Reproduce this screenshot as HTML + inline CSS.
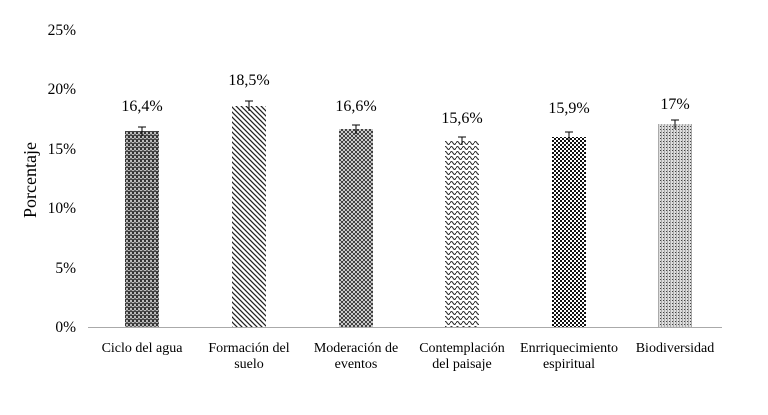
<!DOCTYPE html>
<html><head><meta charset="utf-8"><style>
body{margin:0;background:#fff}
svg{display:block;font-family:"Liberation Serif",serif}
</style></head><body>
<svg width="768" height="415" viewBox="0 0 768 415" xmlns="http://www.w3.org/2000/svg">
<defs>
<pattern id="p1" width="4" height="4" patternUnits="userSpaceOnUse"><rect width="4" height="4" fill="#bbb"/><rect width="2" height="2" fill="#333"/><rect x="2" y="2" width="2" height="2" fill="#666"/><rect y="3" width="4" height="1" fill="#444"/></pattern>
<pattern id="p2" width="5" height="5" patternUnits="userSpaceOnUse"><rect width="5" height="5" fill="#fff"/><path d="M0 0L5 5M-1 4L1 6M4 -1L6 1" stroke="#222" stroke-width="1.3"/></pattern>
<pattern id="p3" width="4" height="4" patternUnits="userSpaceOnUse"><rect width="4" height="4" fill="#fff"/><path d="M0 0L4 4M4 0L0 4" stroke="#333" stroke-width="1"/></pattern>
<pattern id="p4" width="6" height="5" patternUnits="userSpaceOnUse"><rect width="6" height="5" fill="#fff"/><path d="M0 3Q1.5 0 3 3T6 3" fill="none" stroke="#222" stroke-width="1"/></pattern>
<pattern id="p5" width="4" height="4" patternUnits="userSpaceOnUse"><rect width="4" height="4" fill="#fff"/><rect width="2" height="2" fill="#111"/><rect x="2" y="2" width="2" height="2" fill="#111"/></pattern>
<pattern id="p6" width="3" height="3" patternUnits="userSpaceOnUse"><rect width="3" height="3" fill="#ddd"/><rect width="1" height="1" fill="#444"/><rect x="1" width="1" height="3" fill="#aaa"/></pattern>
</defs>
<g font-size="15.5" fill="#000" text-anchor="end">
<text x="76" y="35">25%</text><text x="76" y="94">20%</text><text x="76" y="154">15%</text>
<text x="76" y="213">10%</text><text x="76" y="273">5%</text><text x="76" y="332">0%</text>
</g>
<text transform="translate(36,180) rotate(-90)" font-size="18" text-anchor="middle">Porcentaje</text>
<line x1="88" y1="327.5" x2="722" y2="327.5" stroke="#aaa" stroke-width="1"/>
<g>
<rect x="125" y="131" width="34" height="196" fill="url(#p1)"/>
<rect x="232" y="106" width="34" height="221" fill="url(#p2)"/>
<rect x="339" y="129" width="34" height="198" fill="url(#p3)"/>
<rect x="445" y="141" width="34" height="186" fill="url(#p4)"/>
<rect x="552" y="137" width="34" height="190" fill="url(#p5)"/>
<rect x="658" y="124" width="34" height="203" fill="url(#p6)"/>
</g>
<g stroke="#000" stroke-width="1">
<path d="M142 127V136M138 127H146"/>
<path d="M249 101V111M245 101H253"/>
<path d="M356 125V134M352 125H360"/>
<path d="M462 137V145M458 137H466"/>
<path d="M569 132V141M565 132H573"/>
<path d="M675 120V129M671 120H679"/>
</g>
<g font-size="16" text-anchor="middle">
<text x="142" y="111">16,4%</text><text x="249" y="85">18,5%</text><text x="356" y="111">16,6%</text>
<text x="462" y="123">15,6%</text><text x="569" y="113">15,9%</text><text x="675" y="109">17%</text>
</g>
<g font-size="14" text-anchor="middle">
<text x="142" y="352">Ciclo del agua</text>
<text x="249" y="352">Formación del</text><text x="249" y="368">suelo</text>
<text x="356" y="352">Moderación de</text><text x="356" y="368">eventos</text>
<text x="462" y="352">Contemplación</text><text x="462" y="368">del paisaje</text>
<text x="569" y="352">Enrriquecimiento</text><text x="569" y="368">espiritual</text>
<text x="675" y="352">Biodiversidad</text>
</g>
</svg>
</body></html>
